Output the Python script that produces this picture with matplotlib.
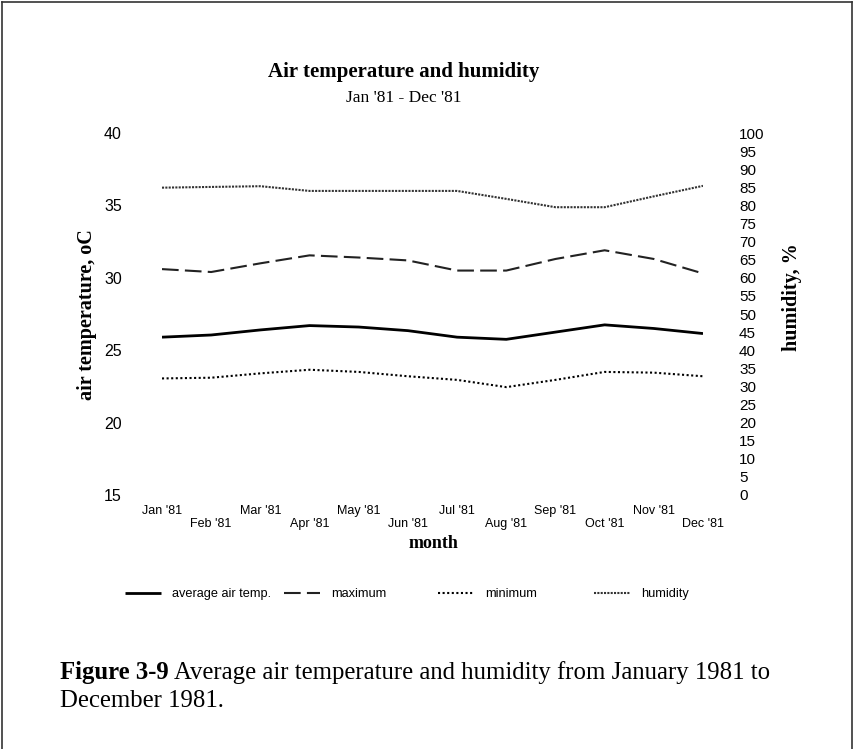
"""
Air temperature and humidity, Jan '81 - Dec '81.
"""

import matplotlib
matplotlib.use('Agg')
import matplotlib.pyplot as plt
from matplotlib.lines import Line2D

SERIF = 'Liberation Serif'
SANS = 'Liberation Sans'

months = ["Jan '81", "Feb '81", "Mar '81", "Apr '81", "May '81", "Jun '81",
          "Jul '81", "Aug '81", "Sep '81", "Oct '81", "Nov '81", "Dec '81"]
avg_temp = [25.9, 26.05, 26.4, 26.7, 26.6, 26.35, 25.9, 25.75, 26.25, 26.75, 26.5, 26.15]
max_temp = [30.6, 30.4, 31.0, 31.55, 31.4, 31.2, 30.5, 30.5, 31.3, 31.9, 31.3, 30.3]
min_temp = [23.05, 23.1, 23.4, 23.65, 23.5, 23.2, 22.95, 22.45, 22.95, 23.5, 23.45, 23.2]
humidity = [84.9, 85.1, 85.3, 84.0, 84.0, 84.0, 84.0, 81.8, 79.5, 79.5, 82.5, 85.4]

legend_labels = ['average air temp.', 'maximum', 'minimum', 'humidity']

W, H = 855, 749
fig = plt.figure(figsize=(W / 100, H / 100), dpi=100)

ax = fig.add_axes([162 / W, 1 - 495 / H, (703 - 162) / W, (495 - 133) / H])
ax2 = ax.twinx()
x = list(range(len(months)))

l_avg, = ax.plot(x, avg_temp, color='black', lw=2.0, solid_capstyle='butt')
l_max, = ax.plot(x, max_temp, color='#222222', lw=1.5, linestyle=(0, (8, 3)))
l_min, = ax.plot(x, min_temp, color='black', lw=1.5, linestyle=(0, (1, 1.2)))
l_hum, = ax2.plot(x, humidity, color='#333333', lw=1.5, linestyle=(0, (1, 0.6)))

ax.set_xlim(0, 11)
ax.set_ylim(15, 40)
ax2.set_ylim(0, 100)

for a in (ax, ax2):
    for s in a.spines.values():
        s.set_visible(False)
    a.tick_params(length=0)

ax.set_yticks(range(15, 41, 5))
ax.set_yticklabels([str(v) for v in range(15, 41, 5)], fontfamily=SANS, fontsize=11.5)
ax.tick_params(axis='y', pad=29)
ax2.set_yticks(range(0, 101, 5))
ax2.set_yticklabels([str(v) for v in range(0, 101, 5)], fontfamily=SANS, fontsize=11)
ax2.tick_params(axis='y', pad=26)

# staggered month labels
ax.set_xticks(x)
ax.set_xticklabels([m if i % 2 == 0 else '\n' + m for i, m in enumerate(months)],
                   fontfamily=SANS, fontsize=9, linespacing=1.15)
ax.tick_params(axis='x', pad=7)

fig.text(433 / W, 1 - 544 / H, 'month', ha='center', va='center',
         fontfamily=SERIF, fontweight='bold', fontsize=13)
fig.text(87 / W, 1 - 315 / H, 'air temperature, oC', ha='center', va='center',
         rotation=90, fontfamily=SERIF, fontweight='bold', fontsize=14.5)
fig.text(792 / W, 1 - 297 / H, 'humidity, %', ha='center', va='center',
         rotation=90, fontfamily=SERIF, fontweight='bold', fontsize=14.5)

fig.text(404 / W, 1 - 72 / H, 'Air temperature and humidity', ha='center', va='center',
         fontfamily=SERIF, fontweight='bold', fontsize=15)
fig.text(404 / W, 1 - 98 / H, "Jan '81 - Dec '81", ha='center', va='center',
         fontfamily=SERIF, fontsize=12.5)

# legend, one slot per series
slots = [125, 284, 438, 594]
for px, h, lab in zip(slots, [l_avg, l_max, l_min, l_hum], legend_labels):
    fig.legend([h], [lab], loc='center left', bbox_to_anchor=(px / W, 1 - 594 / H),
               frameon=False, handlelength=2.8, handletextpad=0.9, borderpad=0,
               borderaxespad=0, prop={'family': SANS, 'size': 9.2})

# caption
cap = fig.text(60 / W, 1 - 673 / H, 'Figure 3-9', ha='left', va='center',
               fontfamily=SERIF, fontweight='bold', fontsize=17.8)
fig.canvas.draw()
bb = cap.get_window_extent()
fig.text(bb.x1 / W + 5 / W, 1 - 673 / H,
         'Average air temperature and humidity from January 1981 to',
         ha='left', va='center', fontfamily=SERIF, fontsize=17.8)
fig.text(60 / W, 1 - 701 / H, 'December 1981.', ha='left', va='center',
         fontfamily=SERIF, fontsize=17.8)

# page frame
for xs, ys in [([2, 2], [0, 747]), ([2, 852], [747, 747]), ([852, 852], [0, 747])]:
    fig.add_artist(Line2D([v / W for v in xs], [v / H for v in ys],
                          color='#333333', lw=1.2, transform=fig.transFigure))

fig.savefig('out.png', dpi=100)
